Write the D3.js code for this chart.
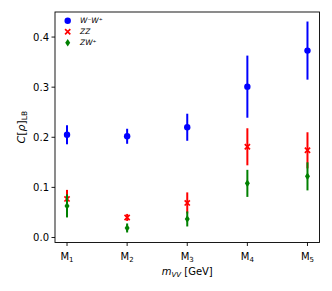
<!DOCTYPE html>
<html><head><meta charset="utf-8">
<script src="https://cdn.jsdelivr.net/npm/d3@7"></script>
<style>body{margin:0;background:#fff}svg{font-family:"DejaVu Sans",sans-serif}</style>
</head><body><svg id="c" width="332" height="291"></svg>
<script>
const categories = ["1","2","3","4","5"];
const wwVal = [0.205,0.202,0.220,0.301,0.373];
const wwErr = [0.019,0.015,0.027,0.062,0.058];
const zzVal = [0.077,0.040,0.069,0.181,0.174];
const zzErr = [0.018,0.007,0.021,0.037,0.036];
const zwVal = [0.063,0.019,0.037,0.108,0.122];
const zwErr = [0.023,0.009,0.015,0.027,0.028];
const yTicks = [0.0,0.1,0.2,0.3,0.4];

const svg = d3.select("#c");
const L=55,R=319.5,T=12,B=242.5;
const x = d3.scaleLinear().domain([-0.2,4.2]).range([L,R]);
const y = d3.scaleLinear().domain([-0.01,0.45]).range([B,T]);

const series = [
 {name:"ww", vals:wwVal, errs:wwErr, color:"#0000ff", marker:"o"},
 {name:"zz", vals:zzVal, errs:zzErr, color:"#ff0000", marker:"x"},
 {name:"zw", vals:zwVal, errs:zwErr, color:"#008000", marker:"d"}
];

function drawMarker(g, m, cx, cy, color){
  if(m==="o") g.append("circle").attr("cx",cx).attr("cy",cy).attr("r",3.2).attr("fill",color);
  else if(m==="x"){
    const s=2.6;
    g.append("path").attr("d",`M${cx-s},${cy-s}L${cx+s},${cy+s}M${cx-s},${cy+s}L${cx+s},${cy-s}`)
     .attr("stroke",color).attr("stroke-width",1.7);
  } else {
    const w=2.5,h=3.8;
    g.append("path").attr("d",`M${cx},${cy-h}L${cx+w},${cy}L${cx},${cy+h}L${cx-w},${cy}Z`).attr("fill",color);
  }
}

const plot = svg.append("g");
series.forEach(s=>{
  s.vals.forEach((v,i)=>{
    plot.append("line").attr("x1",x(i)).attr("x2",x(i))
      .attr("y1",y(v-s.errs[i])).attr("y2",y(v+s.errs[i]))
      .attr("stroke",s.color).attr("stroke-width",2);
    drawMarker(plot,s.marker,x(i),y(v),s.color);
  });
});

// spines
svg.append("rect").attr("x",L).attr("y",T).attr("width",R-L).attr("height",B-T)
  .attr("fill","none").attr("stroke","#000").attr("stroke-width",0.9);

// y axis
const ya = svg.append("g");
yTicks.forEach(t=>{
  ya.append("line").attr("x1",L).attr("x2",L-3.5).attr("y1",y(t)).attr("y2",y(t)).attr("stroke","#000").attr("stroke-width",0.9);
  ya.append("text").attr("x",L-6).attr("y",y(t)).attr("dy","0.35em").attr("text-anchor","end")
    .attr("font-size",10).text(t.toFixed(1));
});
// x axis
const xa = svg.append("g");
categories.forEach((c,i)=>{
  xa.append("line").attr("x1",x(i)).attr("x2",x(i)).attr("y1",B).attr("y2",B+3.5).attr("stroke","#000").attr("stroke-width",0.9);
  const t = xa.append("text").attr("x",x(i)).attr("y",B+17).attr("text-anchor","middle").attr("font-size",10);
  t.append("tspan").text("M");
  t.append("tspan").attr("font-size",7).attr("dy",2.5).text(c);
});

// x label
const xl = svg.append("text").attr("x",(L+R)/2).attr("y",B+32).attr("text-anchor","middle").attr("font-size",10);
xl.append("tspan").attr("font-style","italic").text("m");
xl.append("tspan").attr("font-style","italic").attr("font-size",7).attr("dy",2).text("VV");
xl.append("tspan").attr("dy",-2).text(" [GeV]");

// y label
const yl = svg.append("text").attr("transform",`translate(25,${(T+B)/2}) rotate(-90)`).attr("text-anchor","middle").attr("font-size",11);
yl.append("tspan").attr("font-style","italic").text("C");
yl.append("tspan").text("[");
yl.append("tspan").attr("font-style","italic").text("ρ");
yl.append("tspan").text("]");
yl.append("tspan").attr("font-size",7.5).attr("dy",2).text("LB");

// legend
const legLabels = [["W","⁻","W","⁺"],["Z","","Z",""],["Z","","W","⁺"]];
series.forEach((s,k)=>{
  const ly = 20.7 + k*11;
  const g = svg.append("g");
  drawMarker(g,s.marker,67.7,ly,s.color);
  const t = svg.append("text").attr("x",80).attr("y",ly).attr("dy","0.35em").attr("font-size",7.5).attr("font-style","italic");
  t.text(legLabels[k].join(""));
});
</script></body></html>
